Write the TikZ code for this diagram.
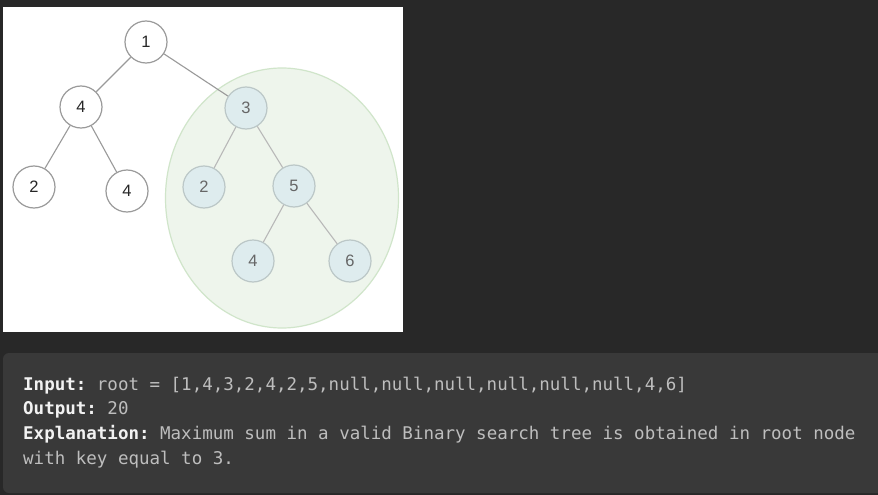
\documentclass[tikz,border=0pt]{standalone}
\usepackage{fontspec}
\setmainfont{Liberation Sans}
\setmonofont{DejaVu Sans Mono}
\definecolor{bgdark}{HTML}{282828}
\definecolor{boxdark}{HTML}{393939}
\definecolor{nodeborder}{HTML}{9A9A9A}
\definecolor{hlfill}{HTML}{DEECEE}
\definecolor{hlborder}{HTML}{BBC7C7}
\definecolor{ellfill}{HTML}{EEF5EC}
\definecolor{ellborder}{HTML}{D0E5CA}
\definecolor{labelc}{HTML}{F2F2F2}
\definecolor{valc}{HTML}{BEBEBE}
\begin{document}
\begin{tikzpicture}[x=1pt,y=-1pt,
  treenode/.style={circle,draw=nodeborder,fill=white,line width=1.2pt,minimum size=42pt,inner sep=0pt,font=\fontsize{16.5}{16.5}\selectfont,text=black!85},
  hlnode/.style={treenode,draw=hlborder,fill=hlfill,text=black!60},
  edge/.style={draw=nodeborder,line width=1.1pt},
  hledge/.style={draw=black!28,line width=1.1pt},
  codetext/.style={anchor=base west,inner sep=0pt,font=\ttfamily\fontsize{17.5}{20}\selectfont,text=valc}
]
\useasboundingbox (0,0) rectangle (878,495);
\fill[bgdark] (0,0) rectangle (878,495);
% white panel
\fill[white] (3,7) rectangle (403,332);
% highlight ellipse
\draw[fill=ellfill,draw=ellborder,line width=1.2pt] (282,198) ellipse [x radius=116.5,y radius=130];
% nodes
\node[treenode] (n1) at (146,42) {1};
\node[treenode] (n4) at (81,107) {4};
\node[hlnode] (n3) at (246,108) {3};
\node[treenode] (n2a) at (34,187) {2};
\node[treenode] (n4b) at (127,191) {4};
\node[hlnode] (n2b) at (204,187) {2};
\node[hlnode] (n5) at (294,186) {5};
\node[hlnode] (n4c) at (253,261) {4};
\node[hlnode] (n6) at (350,261) {6};
% edges
\draw[edge] (n1) -- (n4);
\draw[edge] (n1) -- (n3);
\draw[edge] (n4) -- (n2a);
\draw[edge] (n4) -- (n4b);
\draw[hledge] (n3) -- (n2b);
\draw[hledge] (n3) -- (n5);
\draw[hledge] (n5) -- (n4c);
\draw[hledge] (n5) -- (n6);
% code box
\fill[boxdark,rounded corners=6pt] (3,353) rectangle (900,493);
\node[codetext] (l1) at (23,390) {\textcolor{labelc}{\bfseries Input:} root = [1,4,3,2,4,2,5,null,null,null,null,null,null,4,6]};
\node[codetext] (l2) at (23,414.7) {\textcolor{labelc}{\bfseries Output:} 20};
\node[codetext] (l3) at (23,439.3) {\textcolor{labelc}{\bfseries Explanation:} Maximum sum in a valid Binary search tree is obtained in root node};
\node[codetext] (l4) at (23,464) {with key equal to 3.};
\end{tikzpicture}
\end{document}
